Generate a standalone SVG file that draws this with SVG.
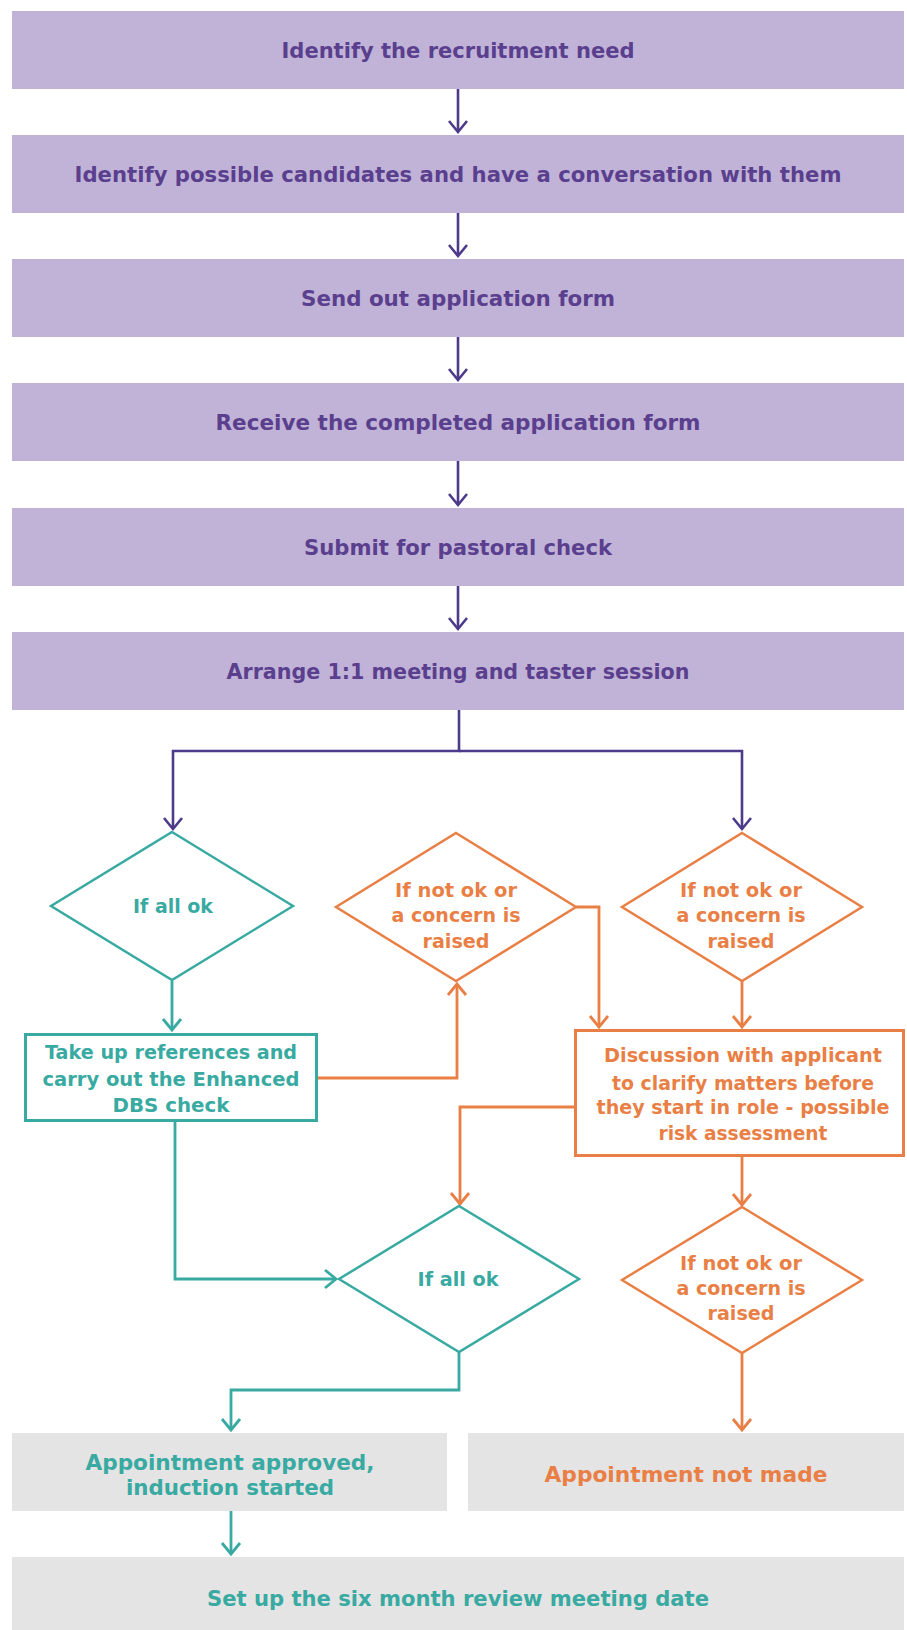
<svg xmlns="http://www.w3.org/2000/svg" width="907" height="1630" viewBox="0 0 907 1630">
  <style>
    .pbox { fill: #c1b3d7; }
    .gbox { fill: #e4e4e4; }
    .ptxt { font-family: "DejaVu Sans", "Liberation Sans", sans-serif; font-weight: bold; font-size: 21px; fill: #5a3f8e; text-anchor: middle; }
    .ttxt { font-family: "DejaVu Sans", "Liberation Sans", sans-serif; font-weight: bold; font-size: 19px; fill: #38aaa2; text-anchor: middle; }
    .otxt { font-family: "DejaVu Sans", "Liberation Sans", sans-serif; font-weight: bold; font-size: 19px; fill: #e97f45; text-anchor: middle; }
    .big { font-size: 21px; }
    .tshape { fill: #ffffff; stroke: #38aaa2; stroke-width: 3; }
    .oshape { fill: #ffffff; stroke: #e97f45; stroke-width: 3; }
    .tdia { fill: #ffffff; stroke: #38aaa2; stroke-width: 2.5; stroke-linejoin: miter; }
    .odia { fill: #ffffff; stroke: #e97f45; stroke-width: 2.5; stroke-linejoin: miter; }
    .pline { fill: none; stroke: #4d3a8a; stroke-width: 2.6; }
    .tline { fill: none; stroke: #38aaa2; stroke-width: 2.8; }
    .oline { fill: none; stroke: #e97f45; stroke-width: 2.8; }
  </style>
  <defs>
    <marker id="ap" markerUnits="userSpaceOnUse" markerWidth="24" markerHeight="24" refX="0" refY="0" orient="auto" overflow="visible" viewBox="-12 -12 24 24">
      <path d="M-11,-9 L0,0 L-11,9" fill="none" stroke="#4d3a8a" stroke-width="2.6"/>
    </marker>
    <marker id="at" markerUnits="userSpaceOnUse" markerWidth="24" markerHeight="24" refX="0" refY="0" orient="auto" overflow="visible" viewBox="-12 -12 24 24">
      <path d="M-11,-9 L0,0 L-11,9" fill="none" stroke="#38aaa2" stroke-width="2.8"/>
    </marker>
    <marker id="ao" markerUnits="userSpaceOnUse" markerWidth="24" markerHeight="24" refX="0" refY="0" orient="auto" overflow="visible" viewBox="-12 -12 24 24">
      <path d="M-11,-9 L0,0 L-11,9" fill="none" stroke="#e97f45" stroke-width="2.8"/>
    </marker>
  </defs>
  <rect width="907" height="1630" fill="#ffffff"/>

  <g id="connectors">
    <path class="pline" d="M458,89 V132" marker-end="url(#ap)"/>
    <path class="pline" d="M458,213 V256" marker-end="url(#ap)"/>
    <path class="pline" d="M458,337 V380" marker-end="url(#ap)"/>
    <path class="pline" d="M458,461 V505" marker-end="url(#ap)"/>
    <path class="pline" d="M458,586 V629" marker-end="url(#ap)"/>
    <path class="pline" d="M459,710 V751 H173 V829" marker-end="url(#ap)"/>
    <path class="pline" d="M459,751 H742 V829" marker-end="url(#ap)"/>

    <path class="tline" d="M172,981 V1030" marker-end="url(#at)"/>
    <path class="tline" d="M175,1122 V1279 H336" marker-end="url(#at)"/>
    <path class="tline" d="M459,1352 V1390 H231 V1430" marker-end="url(#at)"/>
    <path class="tline" d="M231,1511 V1554" marker-end="url(#at)"/>

    <path class="oline" d="M318,1078 H457 V984" marker-end="url(#ao)"/>
    <path class="oline" d="M576,907 H599 V1027" marker-end="url(#ao)"/>
    <path class="oline" d="M742,981 V1027" marker-end="url(#ao)"/>
    <path class="oline" d="M574,1107 H460 V1204" marker-end="url(#ao)"/>
    <path class="oline" d="M742,1156 V1205" marker-end="url(#ao)"/>
    <path class="oline" d="M742,1353 V1430" marker-end="url(#ao)"/>
  </g>

  <g id="n1">
    <rect class="pbox" x="12" y="11" width="892" height="78"/>
    <text class="ptxt" x="458" y="58" textLength="353" lengthAdjust="spacingAndGlyphs">Identify the recruitment need</text>
  </g>
  <g id="n2">
    <rect class="pbox" x="12" y="135" width="892" height="78"/>
    <text class="ptxt" x="458" y="182" textLength="767" lengthAdjust="spacingAndGlyphs">Identify possible candidates and have a conversation with them</text>
  </g>
  <g id="n3">
    <rect class="pbox" x="12" y="259" width="892" height="78"/>
    <text class="ptxt" x="458" y="306" textLength="314" lengthAdjust="spacingAndGlyphs">Send out application form</text>
  </g>
  <g id="n4">
    <rect class="pbox" x="12" y="383" width="892" height="78"/>
    <text class="ptxt" x="458" y="430" textLength="485" lengthAdjust="spacingAndGlyphs">Receive the completed application form</text>
  </g>
  <g id="n5">
    <rect class="pbox" x="12" y="508" width="892" height="78"/>
    <text class="ptxt" x="458" y="555" textLength="308" lengthAdjust="spacingAndGlyphs">Submit for pastoral check</text>
  </g>
  <g id="n6">
    <rect class="pbox" x="12" y="632" width="892" height="78"/>
    <text class="ptxt" x="458" y="679" textLength="463" lengthAdjust="spacingAndGlyphs">Arrange 1:1 meeting and taster session</text>
  </g>

  <g id="d1">
    <polygon class="tdia" points="172,832 293,906 172,980 51,906"/>
    <text class="ttxt" x="173" y="913" textLength="80" lengthAdjust="spacingAndGlyphs">If all ok</text>
  </g>
  <g id="d2">
    <polygon class="odia" points="456,833 576,907 456,981 336,907"/>
    <text class="otxt" x="456" y="897" textLength="122" lengthAdjust="spacingAndGlyphs">If not ok or</text>
    <text class="otxt" x="456" y="922" textLength="129" lengthAdjust="spacingAndGlyphs">a concern is</text>
    <text class="otxt" x="456" y="948" textLength="67" lengthAdjust="spacingAndGlyphs">raised</text>
  </g>
  <g id="d3">
    <polygon class="odia" points="742,833 862,907 742,981 622,907"/>
    <text class="otxt" x="741" y="897" textLength="122" lengthAdjust="spacingAndGlyphs">If not ok or</text>
    <text class="otxt" x="741" y="922" textLength="129" lengthAdjust="spacingAndGlyphs">a concern is</text>
    <text class="otxt" x="741" y="948" textLength="67" lengthAdjust="spacingAndGlyphs">raised</text>
  </g>

  <g id="b1">
    <rect class="tshape" x="25.5" y="1034.5" width="291" height="86"/>
    <text class="ttxt" x="171" y="1059" textLength="252" lengthAdjust="spacingAndGlyphs">Take up references and</text>
    <text class="ttxt" x="171" y="1086" textLength="257" lengthAdjust="spacingAndGlyphs">carry out the Enhanced</text>
    <text class="ttxt" x="171" y="1112" textLength="117" lengthAdjust="spacingAndGlyphs">DBS check</text>
  </g>
  <g id="b2">
    <rect class="oshape" x="575.5" y="1030.5" width="328" height="125"/>
    <text class="otxt" x="743" y="1062" textLength="278" lengthAdjust="spacingAndGlyphs">Discussion with applicant</text>
    <text class="otxt" x="743" y="1090" textLength="262" lengthAdjust="spacingAndGlyphs">to clarify matters before</text>
    <text class="otxt" x="743" y="1114" textLength="293" lengthAdjust="spacingAndGlyphs">they start in role - possible</text>
    <text class="otxt" x="743" y="1140" textLength="169" lengthAdjust="spacingAndGlyphs">risk assessment</text>
  </g>

  <g id="d4">
    <polygon class="tdia" points="459,1206 579,1279 459,1352 339,1279"/>
    <text class="ttxt" x="458" y="1286" textLength="81" lengthAdjust="spacingAndGlyphs">If all ok</text>
  </g>
  <g id="d5">
    <polygon class="odia" points="742,1207 862,1280 742,1353 622,1280"/>
    <text class="otxt" x="741" y="1270" textLength="122" lengthAdjust="spacingAndGlyphs">If not ok or</text>
    <text class="otxt" x="741" y="1295" textLength="129" lengthAdjust="spacingAndGlyphs">a concern is</text>
    <text class="otxt" x="741" y="1320" textLength="67" lengthAdjust="spacingAndGlyphs">raised</text>
  </g>

  <g id="r1">
    <rect class="gbox" x="12" y="1433" width="435" height="78"/>
    <text class="ttxt big" x="230" y="1469.5" textLength="289" lengthAdjust="spacingAndGlyphs">Appointment approved,</text>
    <text class="ttxt big" x="230" y="1494.5" textLength="208" lengthAdjust="spacingAndGlyphs">induction started</text>
  </g>
  <g id="r2">
    <rect class="gbox" x="468" y="1433" width="436" height="78"/>
    <text class="otxt big" x="686" y="1481.5" textLength="283" lengthAdjust="spacingAndGlyphs">Appointment not made</text>
  </g>
  <g id="r3">
    <rect class="gbox" x="12" y="1557" width="892" height="73"/>
    <text class="ttxt big" x="458" y="1605.5" textLength="502" lengthAdjust="spacingAndGlyphs">Set up the six month review meeting date</text>
  </g>
</svg>
